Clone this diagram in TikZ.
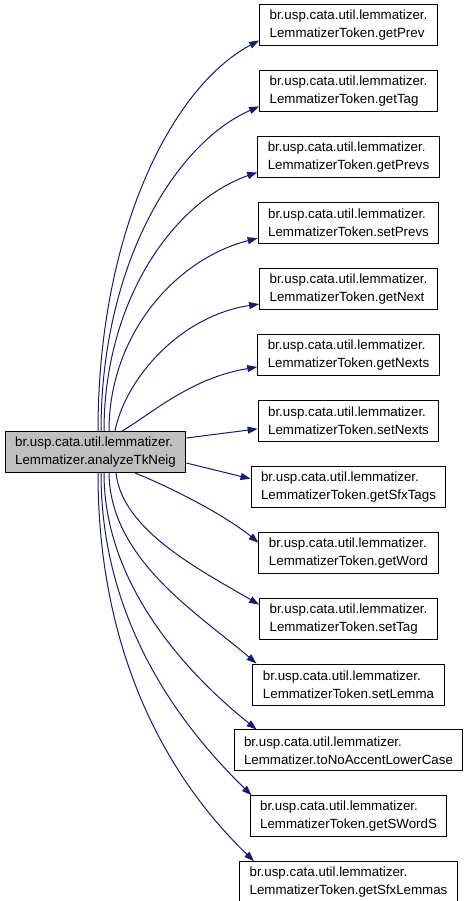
\documentclass[tikz,border=0pt]{standalone}
\usepackage{fontspec}
\setmainfont{Liberation Sans}
\usetikzlibrary{positioning,arrows.meta}
\definecolor{EdgeBlue}{RGB}{25,25,112}
\definecolor{MainGray}{RGB}{191,191,191}

\begin{document}
\begin{tikzpicture}[x=1pt,y=-1pt,node distance=23.9pt,
      box/.style={draw=black,fill=white,line width=1pt,minimum height=41pt,
                  inner xsep=10pt,inner ysep=2pt,align=left,
                  font=\fontsize{13.33}{18}\selectfont},
      mainbox/.style={box,fill=MainGray},
      call/.style={-{Triangle[length=10pt,width=7pt]},draw=EdgeBlue,line width=1pt}]
    \useasboundingbox (0,0) rectangle (469,901);
    \node[mainbox] (analyze) at (95.5,452) {br.usp.cata.util.lemmatizer.\\Lemmatizer.analyzeTkNeig};
    \node[box] (getprev) at (348.5,25.5) {br.usp.cata.util.lemmatizer.\\LemmatizerToken.getPrev};
    \node[box,below=of getprev] (gettag) {br.usp.cata.util.lemmatizer.\\LemmatizerToken.getTag};
    \node[box,below=of gettag] (getprevs) {br.usp.cata.util.lemmatizer.\\LemmatizerToken.getPrevs};
    \node[box,below=of getprevs] (setprevs) {br.usp.cata.util.lemmatizer.\\LemmatizerToken.setPrevs};
    \node[box,below=of setprevs] (getnext) {br.usp.cata.util.lemmatizer.\\LemmatizerToken.getNext};
    \node[box,below=of getnext] (getnexts) {br.usp.cata.util.lemmatizer.\\LemmatizerToken.getNexts};
    \node[box,below=of getnexts] (setnexts) {br.usp.cata.util.lemmatizer.\\LemmatizerToken.setNexts};
    \node[box,below=of setnexts] (sfxtags) {br.usp.cata.util.lemmatizer.\\LemmatizerToken.getSfxTags};
    \node[box,below=of sfxtags] (getword) {br.usp.cata.util.lemmatizer.\\LemmatizerToken.getWord};
    \node[box,below=of getword] (settag) {br.usp.cata.util.lemmatizer.\\LemmatizerToken.setTag};
    \node[box,below=of settag] (setlemma) {br.usp.cata.util.lemmatizer.\\LemmatizerToken.setLemma};
    \node[box,below=of setlemma] (nocase) {br.usp.cata.util.lemmatizer.\\Lemmatizer.toNoAccentLowerCase};
    \node[box,below=of nocase] (swords) {br.usp.cata.util.lemmatizer.\\LemmatizerToken.getSWordS};
    \node[box,below=of swords] (sfxlemmas) {br.usp.cata.util.lemmatizer.\\LemmatizerToken.getSfxLemmas};
    % calls going up
    \draw[call] ([xshift=2.5pt]analyze.north) .. controls (98,236) and (170,88) .. ([yshift=-15pt]getprev.west);
    \draw[call] ([xshift=5.5pt]analyze.north) .. controls (101,269) and (172,145) .. ([yshift=-15pt]gettag.west);
    \draw[call] ([xshift=8.5pt]analyze.north) .. controls (104,301) and (173,202) .. ([yshift=-15pt]getprevs.west);
    \draw[call] ([xshift=13.5pt]analyze.north) .. controls (109,334) and (176,259) .. ([yshift=-15pt]setprevs.west);
    \draw[call] ([xshift=19.5pt]analyze.north) .. controls (125,380) and (179,316) .. ([yshift=-15pt]getnext.west);
    \draw[call] ([xshift=26.5pt]analyze.north) .. controls (150,415) and (190,378) .. ([yshift=-12pt]getnexts.west);
    % calls to the side
    \draw[call] ([yshift=14pt]analyze.east) -- ([yshift=-8pt]setnexts.west);
    \draw[call] ([yshift=-11pt]analyze.east) -- ([yshift=8pt]sfxtags.west);
    % calls going down
    \draw[call] ([xshift=39.5pt]analyze.south) .. controls (170,487) and (225,515) .. ([yshift=10pt]getword.west);
    \draw[call] ([xshift=20.5pt]analyze.south) .. controls (122,530) and (200,570) .. ([yshift=14pt]settag.west);
    \draw[call] ([xshift=13.5pt]analyze.south) .. controls (110,560) and (200,615) .. ([xshift=4pt]setlemma.north west);
    \draw[call] ([xshift=8.5pt]analyze.south) .. controls (104,590) and (195,680) .. ([xshift=23pt]nocase.north west);
    \draw[call] ([xshift=5.5pt]analyze.south) .. controls (101,630) and (190,735) .. ([xshift=2pt]swords.north west);
    \draw[call] ([xshift=2.5pt]analyze.south) .. controls (98,670) and (180,790) .. ([xshift=15pt]sfxlemmas.north west);
  \end{tikzpicture}
\end{document}
